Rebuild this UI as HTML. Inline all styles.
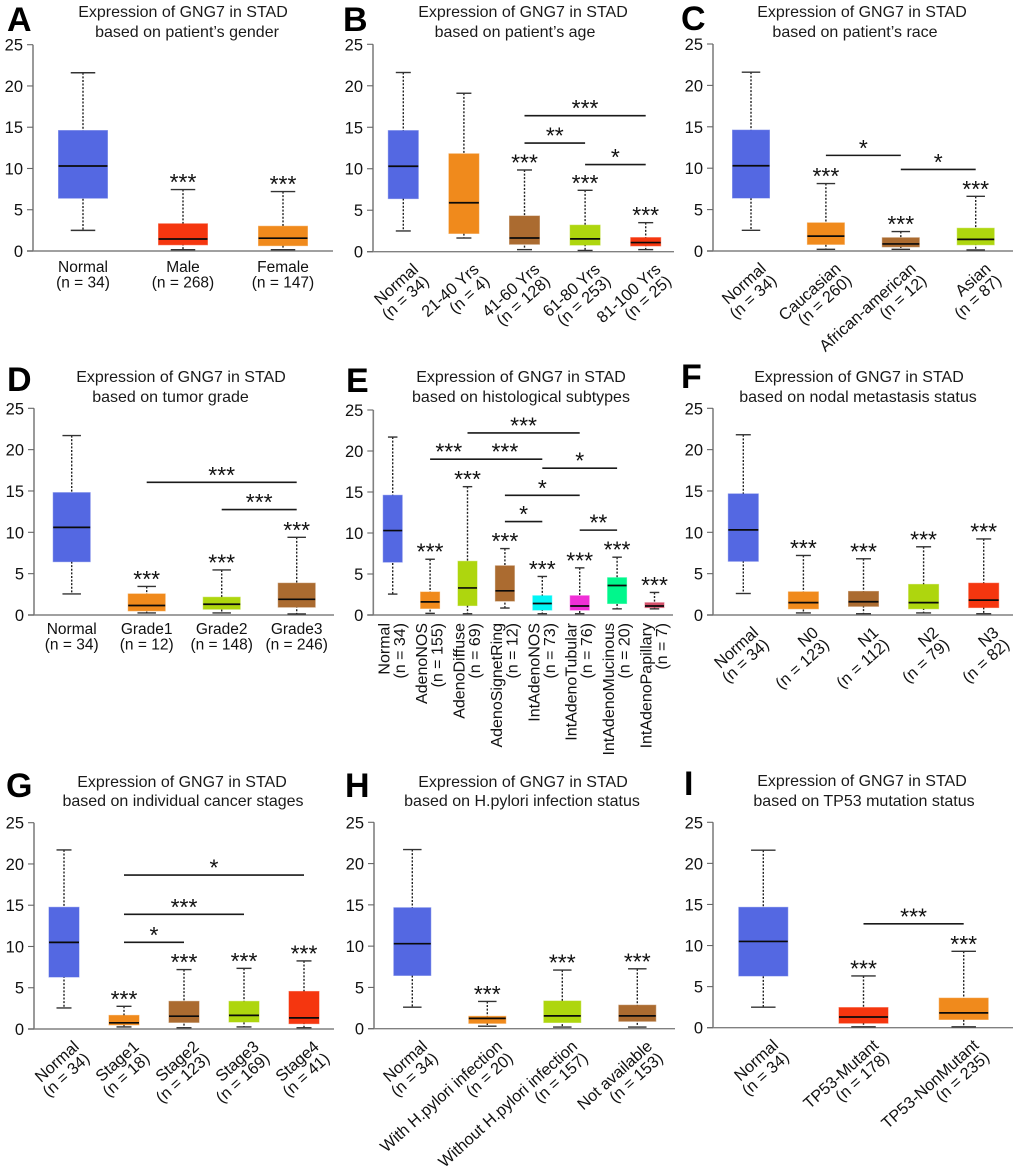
<!DOCTYPE html>
<html lang="en">
<head>
<meta charset="utf-8">
<title>Expression of GNG7 in STAD</title>
<style>
html,body{margin:0;padding:0;background:#fff;}
#figure{display:block;width:1020px;height:1171px;font-family:"Liberation Sans",Arial,sans-serif;}
</style>
</head>
<body>
<svg id="figure" xmlns="http://www.w3.org/2000/svg" width="1020" height="1171" viewBox="0 0 1020 1171"></svg>
<script>
const tickValues = [0, 5, 10, 15, 20, 25];
const tickLabels = ['0', '5', '10', '15', '20', '25'];

/* Five-number rows are [low whisker, q1, median, q3, high whisker]. Sig rows are [from category, to category, level, stars]. */
const aCategories = ['Normal', 'Male', 'Female'];
const aCounts = [34, 268, 147];
const aBoxes = [[2.5,6.4,10.3,14.6,21.6],[0.15,0.75,1.45,3.3,7.45],[0.15,0.65,1.55,3.0,7.2]];
const aStars = ['', '***', '***'];
const aSig = [];

const bCategories = ['Normal', '21-40 Yrs', '41-60 Yrs', '61-80 Yrs', '81-100 Yrs'];
const bCounts = [34, 4, 128, 253, 25];
const bBoxes = [[2.5,6.4,10.3,14.6,21.6],[1.65,2.2,5.9,11.8,19.1],[0.25,0.9,1.65,4.3,9.85],[0.15,0.8,1.55,3.2,7.4],[0.25,0.7,1.1,1.7,3.5]];
const bStars = ['', '', '***', '***', '***'];
const bSig = [[2,4,16.4,'***'],[2,3,13.1,'**'],[3,4,10.5,'*']];

const cCategories = ['Normal', 'Caucasian', 'African-american', 'Asian'];
const cCounts = [34, 260, 12, 87];
const cBoxes = [[2.5,6.4,10.3,14.6,21.6],[0.2,0.8,1.8,3.4,8.15],[0.2,0.5,0.85,1.6,2.35],[0.12,0.75,1.4,2.75,6.6]];
const cStars = ['', '***', '***', '***'];
const cSig = [[1,2,11.55,'*'],[2,3,9.85,'*']];

const dCategories = ['Normal', 'Grade1', 'Grade2', 'Grade3'];
const dCounts = [34, 12, 148, 246];
const dBoxes = [[2.55,6.45,10.6,14.8,21.7],[0.25,0.5,1.15,2.55,3.45],[0.25,0.7,1.3,2.15,5.45],[0.12,0.95,1.9,3.85,9.4]];
const dStars = ['', '***', '***', '***'];
const dSig = [[1,3,16.05,'***'],[2,3,12.75,'***']];

const eCategories = ['Normal', 'AdenoNOS', 'AdenoDiffuse', 'AdenoSignetRing', 'IntAdenoNOS', 'IntAdenoTubular', 'IntAdenoMucinous', 'IntAdenoPapillary'];
const eCounts = [34, 155, 69, 12, 73, 76, 20, 7];
const eBoxes = [[2.55,6.45,10.3,14.6,21.7],[0.2,0.8,1.6,2.8,6.8],[0.15,1.15,3.3,6.55,15.65],[0.85,1.7,2.95,6.0,8.1],[0.15,0.6,1.4,2.35,4.7],[0.15,0.6,1.1,2.35,5.75],[0.75,1.4,3.6,4.55,7.05],[0.75,0.9,1.1,1.5,2.75]];
const eStars = ['', '***', '***', '***', '***', '***', '***', '***'];
const eSig = [[2,5,22.2,'***'],[1,2,19,'***'],[2,4,19,'***'],[4,6,17.9,'*'],[3,5,14.6,'*'],[3,4,11.4,'*'],[5,6,10.35,'**']];

const fCategories = ['Normal', 'N0', 'N1', 'N2', 'N3'];
const fCounts = [34, 123, 112, 79, 82];
const fBoxes = [[2.6,6.5,10.3,14.65,21.8],[0.25,0.75,1.5,2.8,7.2],[0.15,1.05,1.6,2.85,6.8],[0.25,0.75,1.5,3.7,8.25],[0.15,0.9,1.8,3.85,9.2]];
const fStars = ['', '***', '***', '***', '***'];
const fSig = [];

const gCategories = ['Normal', 'Stage1', 'Stage2', 'Stage3', 'Stage4'];
const gCounts = [34, 18, 123, 169, 41];
const gBoxes = [[2.55,6.3,10.5,14.75,21.7],[0.25,0.5,0.75,1.65,2.75],[0.15,0.8,1.55,3.35,7.2],[0.25,0.85,1.65,3.35,7.35],[0.15,0.65,1.35,4.55,8.25]];
const gStars = ['', '***', '***', '***', '***'];
const gSig = [[1,4,18.65,'*'],[1,3,13.9,'***'],[1,2,10.5,'*']];

const hCategories = ['Normal', 'With H.pylori infection', 'Without H.pylori infection', 'Not available'];
const hCounts = [34, 20, 157, 153];
const hBoxes = [[2.6,6.45,10.3,14.65,21.7],[0.3,0.65,1.25,1.5,3.3],[0.2,0.75,1.55,3.35,7.1],[0.2,0.9,1.55,2.85,7.25]];
const hStars = ['', '***', '***', '***'];
const hSig = [];

const iCategories = ['Normal', 'TP53-Mutant', 'TP53-NonMutant'];
const iCounts = [34, 178, 235];
const iBoxes = [[2.5,6.3,10.5,14.65,21.6],[0.1,0.55,1.3,2.45,6.3],[0.1,1.0,1.8,3.6,9.3]];
const iStars = ['', '***', '***'];
const iSig = [[1,2,12.65,'***']];

const BLUE = '#5468e2', RED = '#f5360f', ORANGE = '#f08a1c', BROWN = '#ab6b30', LIME = '#aed60e';
const panels = [
  {id:'a', letter:'A', lx:7, ly:31, x0:33, x1:333, y0:251, y25:44.7, first:83, step:100, w:49, mode:'flat', lb:272,
   title:[['Expression of GNG7 in STAD',183,17],['based on patient\u2019s gender',187,37]],
   cats:aCategories, n:aCounts, boxes:aBoxes, stars:aStars, sig:aSig, fills:[BLUE,RED,ORANGE]},
  {id:'b', letter:'B', lx:343, ly:31, x0:373, x1:674, y0:251.7, y25:44.3, first:403.3, step:60.6, w:30, mode:'slant',
   title:[['Expression of GNG7 in STAD',523,17],['based on patient\u2019s age',515,37]],
   cats:bCategories, n:bCounts, boxes:bBoxes, stars:bStars, sig:bSig, fills:[BLUE,ORANGE,BROWN,LIME,RED]},
  {id:'c', letter:'C', lx:681, ly:30, x0:713, x1:1013, y0:251, y25:44, first:751, step:74.9, w:37, mode:'slant',
   title:[['Expression of GNG7 in STAD',862,17],['based on patient\u2019s race',855,37]],
   cats:cCategories, n:cCounts, boxes:cBoxes, stars:cStars, sig:cSig, fills:[BLUE,ORANGE,BROWN,LIME]},
  {id:'d', letter:'D', lx:7, ly:391, x0:34, x1:334, y0:615, y25:408.3, first:71.7, step:75, w:37, mode:'flat', lb:634,
   title:[['Expression of GNG7 in STAD',181,382],['based on tumor grade',170.5,402]],
   cats:dCategories, n:dCounts, boxes:dBoxes, stars:dStars, sig:dSig, fills:[BLUE,ORANGE,LIME,BROWN]},
  {id:'e', letter:'E', lx:346, ly:392, x0:373.3, x1:673, y0:615, y25:410, first:392.7, step:37.4, w:19, mode:'upright',
   title:[['Expression of GNG7 in STAD',521,382],['based on histological subtypes',521,402]],
   cats:eCategories, n:eCounts, boxes:eBoxes, stars:eStars, sig:eSig, fills:[BLUE,ORANGE,LIME,BROWN,'#00f5f5','#f02fd6','#00f78c','#d4506a']},
  {id:'f', letter:'F', lx:681, ly:388, x0:713, x1:1013, y0:615, y25:408.3, first:743.3, step:60.1, w:30, mode:'slant',
   title:[['Expression of GNG7 in STAD',859,382],['based on nodal metastasis status',858,402]],
   cats:fCategories, n:fCounts, boxes:fBoxes, stars:fStars, sig:fSig, fills:[BLUE,ORANGE,BROWN,LIME,RED]},
  {id:'g', letter:'G', lx:6, ly:797, x0:34, x1:334, y0:1029, y25:822.7, first:64, step:60, w:30, mode:'slant',
   title:[['Expression of GNG7 in STAD',182,787],['based on individual cancer stages',183,806]],
   cats:gCategories, n:gCounts, boxes:gBoxes, stars:gStars, sig:gSig, fills:[BLUE,ORANGE,BROWN,LIME,RED]},
  {id:'h', letter:'H', lx:345, ly:797, x0:374, x1:675, y0:1028.7, y25:822.3, first:412.3, step:75, w:37, mode:'slant',
   title:[['Expression of GNG7 in STAD',523,787],['based on H.pylori infection status',522,806]],
   cats:hCategories, n:hCounts, boxes:hBoxes, stars:hStars, sig:hSig, fills:[BLUE,ORANGE,LIME,BROWN]},
  {id:'i', letter:'I', lx:684, ly:795, x0:713, x1:1013, y0:1027.7, y25:822.3, first:763.3, step:100.2, w:49, mode:'slant',
   title:[['Expression of GNG7 in STAD',862,786],['based on TP53 mutation status',864,806]],
   cats:iCategories, n:iCounts, boxes:iBoxes, stars:iStars, sig:iSig, fills:[BLUE,RED,ORANGE]}
];

const SVGNS = 'http://www.w3.org/2000/svg';
const root = document.getElementById('figure');

function make(tag, attrs, parent) {
  const node = document.createElementNS(SVGNS, tag);
  for (const key in attrs) node.setAttribute(key, attrs[key]);
  parent.appendChild(node);
  return node;
}
function slug(text) {
  return String(text).toLowerCase().replace(/[^a-z0-9]+/g, '-').replace(/^-|-$/g, '');
}

panels.forEach(function (p) {
  const yScale = function (v) { return p.y0 - (v / 25) * (p.y0 - p.y25); };
  const xScale = function (i) { return p.first + p.step * i; };

  const panel = make('g', {}, root);
  
  

  const letter = make('text', {x: p.lx, y: p.ly, 'font-size': 34, 'font-weight': 'bold', fill: '#000'}, panel);
  letter.textContent = p.letter;
  
  

  p.title.forEach(function (line, k) {
    const t = make('text', {x: line[1], y: line[2], 'font-size': 16, 'text-anchor': 'middle', fill: '#1a1a1a'}, panel);
    t.textContent = line[0];
    
    
  });

  const yAxis = make('line', {x1: p.x0, x2: p.x0, y1: p.y25, y2: p.y0, stroke: '#808080', 'stroke-width': 1.6}, panel);
  
  

  const xAxis = make('line', {x1: p.x0 - 6, x2: p.x1, y1: p.y0, y2: p.y0, stroke: '#808080', 'stroke-width': 1.4}, panel);
  
  

  tickValues.forEach(function (v, k) {
    const tick = make('line', {x1: p.x0 - 6, x2: p.x0, y1: yScale(v), y2: yScale(v), stroke: '#666', 'stroke-width': 1.1}, panel);
    
    
    const label = make('text', {x: p.x0 - 10, y: yScale(v) + 6, 'font-size': 16.5, 'text-anchor': 'end', fill: '#111'}, panel);
    label.textContent = tickLabels[k];
    
    
  });

  p.cats.forEach(function (cat, i) {
    const box = p.boxes[i], cx = xScale(i), name = slug(cat);
    const g = make('g', {}, panel);
    
    

    const whisker = make('line', {x1: cx, x2: cx, y1: yScale(box[4]), y2: yScale(box[0]), stroke: '#222', 'stroke-width': 1.4, 'stroke-dasharray': '2 1.6'}, g);
    
    

    const capHigh = make('line', {x1: cx - p.w / 4, x2: cx + p.w / 4, y1: yScale(box[4]), y2: yScale(box[4]), stroke: '#333', 'stroke-width': 1.4}, g);
    
    

    const capLow = make('line', {x1: cx - p.w / 4, x2: cx + p.w / 4, y1: yScale(box[0]), y2: yScale(box[0]), stroke: '#333', 'stroke-width': 1.4}, g);
    
    

    const rect = make('rect', {x: cx - p.w / 2, y: yScale(box[3]), width: p.w, height: yScale(box[1]) - yScale(box[3]), fill: p.fills[i], stroke: p.fills[i], 'stroke-opacity': 0.55, 'stroke-width': 1}, g);
    
    

    const median = make('line', {x1: cx - p.w / 2, x2: cx + p.w / 2, y1: yScale(box[2]), y2: yScale(box[2]), stroke: '#0a0a0a', 'stroke-width': 1.7}, g);
    
    

    if (p.stars[i]) {
      const star = make('text', {x: cx, y: yScale(box[4]) + 0.5, 'font-size': 23, 'text-anchor': 'middle', fill: '#111'}, g);
      star.textContent = p.stars[i];
      
      
    }

    const label = make('g', {}, panel);
    
    
    let anchor = 'end', dyLine = 15.5, size = 15.5, tx = 0, ty = 0;
    if (p.mode === 'flat') {
      anchor = 'middle';
      tx = cx;
      ty = p.lb;
    } else if (p.mode === 'slant') {
      size = 16.3;
      dyLine = 16;
      label.setAttribute('transform', 'translate(' + (cx + 16) + ',' + (p.y0 + 19) + ') rotate(-42)');
    } else {
      size = 16;
      dyLine = 15.5;
      label.setAttribute('transform', 'translate(' + (cx - 3) + ',623) rotate(-90)');
    }
    const catLine = make('text', {x: tx, y: ty, 'font-size': size, 'text-anchor': anchor, fill: '#111'}, label);
    catLine.textContent = cat;
    const nLine = make('text', {x: tx, y: ty + dyLine, 'font-size': size, 'text-anchor': anchor, fill: '#111'}, label);
    nLine.textContent = '(n = ' + p.n[i] + ')';
  });

  p.sig.forEach(function (s, k) {
    const xa = xScale(s[0]), xb = xScale(s[1]), y = yScale(s[2]);
    const bar = make('line', {x1: xa, x2: xb, y1: y, y2: y, stroke: '#1a1a1a', 'stroke-width': 1.6}, panel);
    
    
    const mark = make('text', {x: (xa + xb) / 2, y: y + 0.5, 'font-size': 23, 'text-anchor': 'middle', fill: '#111'}, panel);
    mark.textContent = s[3];
    
    
  });
});
</script>
</body>
</html>
